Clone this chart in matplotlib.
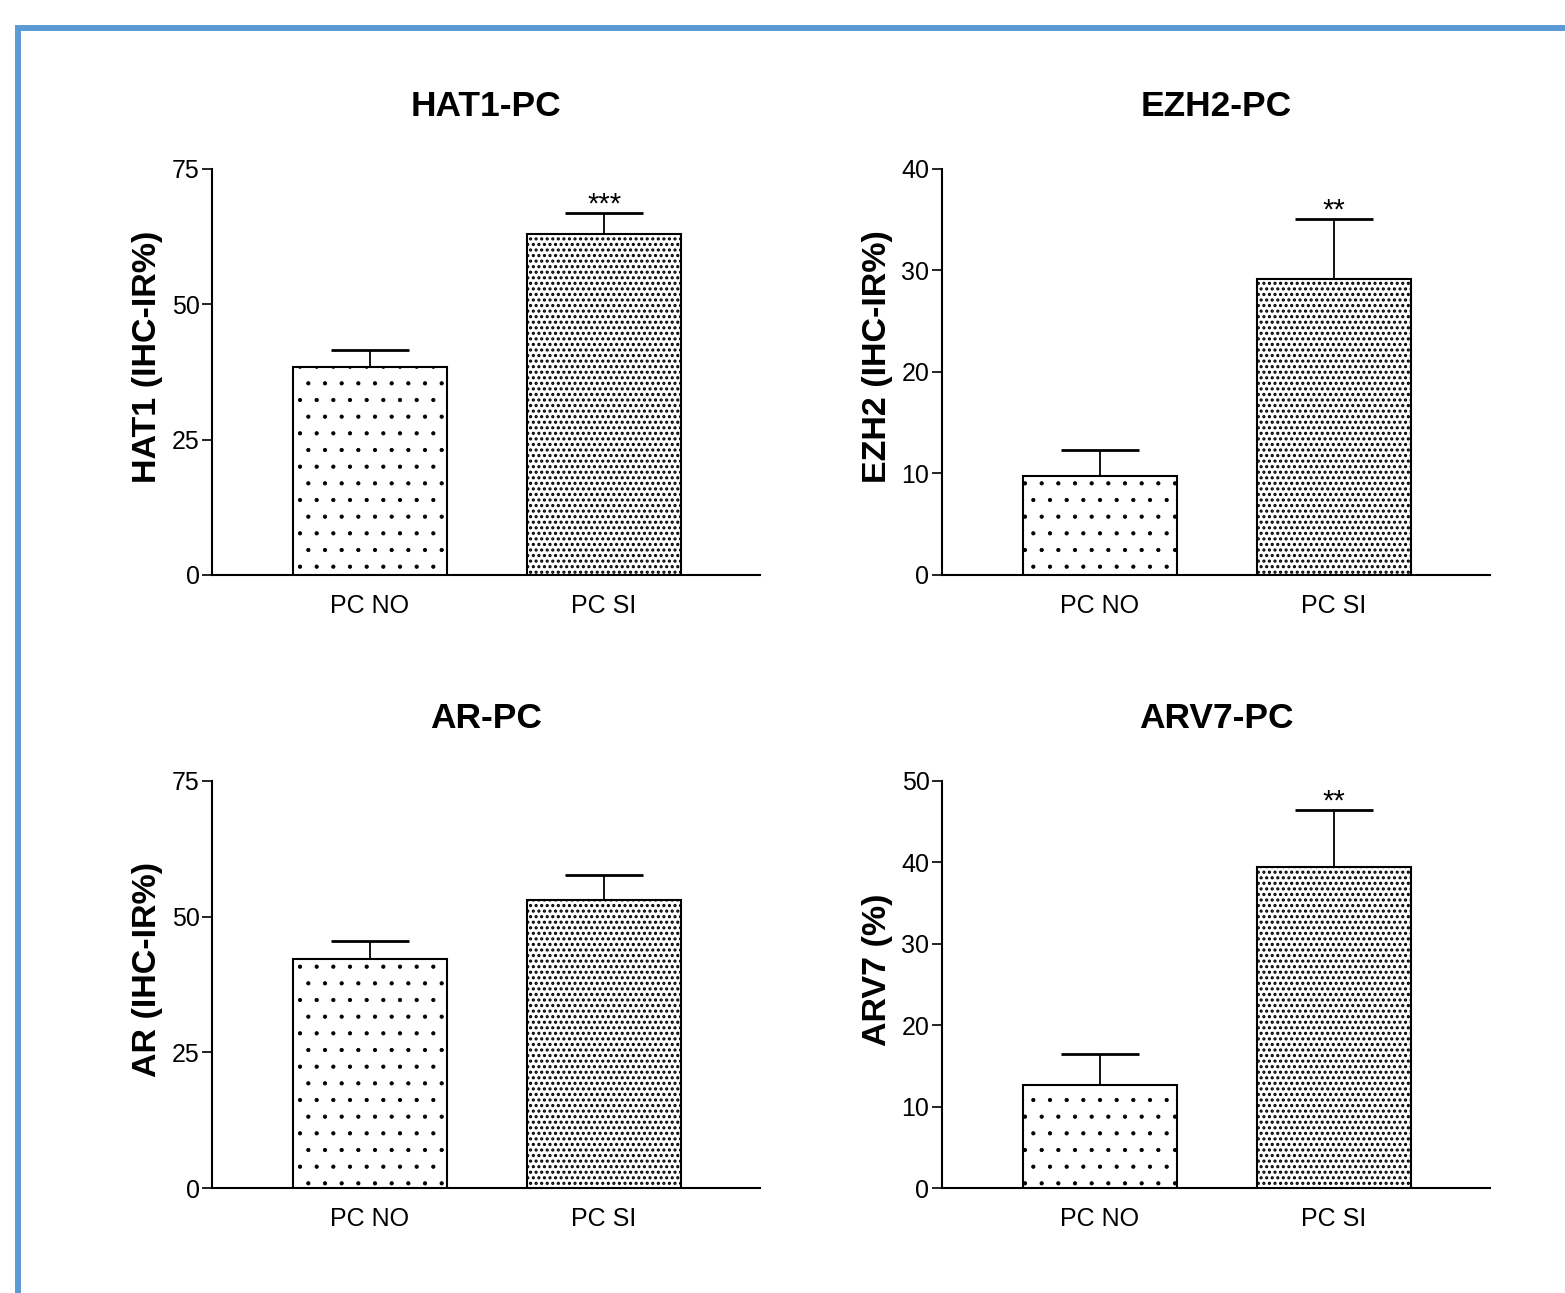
import numpy as np
import matplotlib
matplotlib.use("Agg")
import matplotlib.pyplot as plt
from matplotlib.lines import Line2D

plt.rcParams["font.family"] = ["Liberation Sans", "DejaVu Sans"]

gruppi = ["PC NO", "PC SI"]

titoli = ["HAT1-PC", "EZH2-PC", "AR-PC", "ARV7-PC"]
etichette_y = ["HAT1 (IHC-IR%)", "EZH2 (IHC-IR%)", "AR (IHC-IR%)", "ARV7 (%)"]

hat1_media = [38.5, 62.9]
hat1_err = [3.1, 4.0]
hat1_stelle = ["", "***"]

ezh2_media = [9.75, 29.2]
ezh2_err = [2.55, 5.9]
ezh2_stelle = ["", "**"]

ar_media = [42.2, 53.1]
ar_err = [3.3, 4.6]
ar_stelle = ["", ""]

arv7_media = [12.65, 39.4]
arv7_err = [3.8, 7.0]
arv7_stelle = ["", "**"]

limiti_y = [75, 40, 75, 50]
passi_y = [25, 10, 25, 10]

medie = [hat1_media, ezh2_media, ar_media, arv7_media]
errori = [hat1_err, ezh2_err, ar_err, arv7_err]
stelle = [hat1_stelle, ezh2_stelle, ar_stelle, arv7_stelle]

fig = plt.figure(figsize=(15.65, 12.93), dpi=100)

# cornice blu in alto a sinistra
bx = 17.5 / 1565
by = 1 - 28 / 1293
fig.add_artist(Line2D([bx, bx, 1.0], [0.0, by, by], transform=fig.transFigure,
                      color="#5b9bd5", lw=4.3, solid_joinstyle="miter"))

posizioni = [
    [0.1355, 0.5553, 0.3502, 0.314],
    [0.6019, 0.5553, 0.3502, 0.314],
    [0.1355, 0.0812, 0.3502, 0.3148],
    [0.6019, 0.0812, 0.3502, 0.3148],
]

x = np.arange(len(gruppi))
tratteggi = [".", "..."]
spessori_tratteggio = [0.6, 1.5]

for i in range(4):
    ax = fig.add_axes(posizioni[i])
    for j in range(2):
        with plt.rc_context({"hatch.linewidth": spessori_tratteggio[j]}):
            b = ax.bar(x[j], medie[i][j], width=0.66, color="white",
                       edgecolor="black", linewidth=1.5, hatch=tratteggi[j],
                       zorder=3)[0]
        if hasattr(b, "set_hatch_linewidth"):
            b.set_hatch_linewidth(spessori_tratteggio[j])
    ax.errorbar(x, medie[i], yerr=[np.zeros(2), errori[i]], fmt="none",
                ecolor="black", elinewidth=1.3, capsize=28, capthick=2.0,
                zorder=2)
    for j in range(2):
        if stelle[i][j]:
            ax.annotate(stelle[i][j], (x[j], medie[i][j] + errori[i][j]),
                        xytext=(0, -4), textcoords="offset points",
                        ha="center", va="bottom", fontsize=21)

    ax.set_xlim(-0.675, 1.667)
    ax.set_ylim(0, limiti_y[i])
    ax.set_yticks(np.arange(0, limiti_y[i] + 1, passi_y[i]))
    ax.set_xticks(x)
    ax.set_xticklabels(gruppi)
    ax.spines["top"].set_visible(False)
    ax.spines["right"].set_visible(False)
    ax.spines["left"].set_linewidth(1.5)
    ax.spines["bottom"].set_linewidth(1.5)
    ax.tick_params(axis="y", length=7, width=1.2, labelsize=18, pad=2)
    ax.tick_params(axis="x", length=0, labelsize=18, pad=14)
    ax.set_ylabel(etichette_y[i], fontsize=24.5, fontweight="bold")
    ax.yaxis.set_label_coords(-0.089, 0.537)
    ax.set_title(titoli[i], fontsize=25.5, fontweight="bold", pad=38)

plt.savefig("out.png", dpi=100)
